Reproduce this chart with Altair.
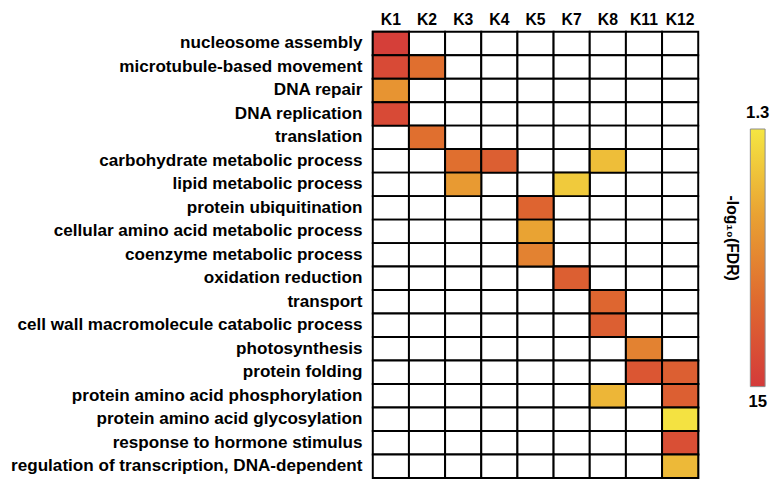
import altair as alt
import pandas as pd

# ---------------- data ----------------
terms = [
    "nucleosome assembly",
    "microtubule-based movement",
    "DNA repair",
    "DNA replication",
    "translation",
    "carbohydrate metabolic process",
    "lipid metabolic process",
    "protein ubiquitination",
    "cellular amino acid metabolic process",
    "coenzyme metabolic process",
    "oxidation reduction",
    "transport",
    "cell wall macromolecule catabolic process",
    "photosynthesis",
    "protein folding",
    "protein amino acid phosphorylation",
    "protein amino acid glycosylation",
    "response to hormone stimulus",
    "regulation of transcription, DNA-dependent",
]
clusters = ["K1", "K2", "K3", "K4", "K5", "K7", "K8", "K11", "K12"]

hit_terms = [
    "nucleosome assembly",
    "microtubule-based movement", "microtubule-based movement",
    "DNA repair",
    "DNA replication",
    "translation",
    "carbohydrate metabolic process", "carbohydrate metabolic process", "carbohydrate metabolic process",
    "lipid metabolic process", "lipid metabolic process",
    "protein ubiquitination",
    "cellular amino acid metabolic process",
    "coenzyme metabolic process",
    "oxidation reduction",
    "transport",
    "cell wall macromolecule catabolic process",
    "photosynthesis",
    "protein folding", "protein folding",
    "protein amino acid phosphorylation", "protein amino acid phosphorylation",
    "protein amino acid glycosylation",
    "response to hormone stimulus",
    "regulation of transcription, DNA-dependent",
]
hit_clusters = [
    "K1",
    "K1", "K2",
    "K1",
    "K1",
    "K2",
    "K3", "K4", "K8",
    "K3", "K7",
    "K5",
    "K5",
    "K5",
    "K7",
    "K8",
    "K8",
    "K11",
    "K11", "K12",
    "K8", "K12",
    "K12",
    "K12",
    "K12",
]
hit_values = [
    14.5,
    13.5, 10.0,
    7.0,
    13.5,
    10.0,
    10.0, 11.5, 4.0,
    6.5, 3.2,
    11.0,
    5.8,
    8.5,
    11.5,
    10.8,
    11.5,
    8.5,
    12.3, 11.5,
    4.5, 11.5,
    1.6,
    13.0,
    4.3,
]

scale_min = 1.3
scale_max = 15
legend_labels = ["1.3", "15"]
legend_title = "-log\u2081\u2080(FDR)"

# ---------------- styling ----------------
FONT = "Liberation Sans"
colors = ["#f5e642", "#e9a233", "#df6a2f", "#d43a3a"]
step = (scale_max - scale_min) / (len(colors) - 1)
color_domain = [scale_min + i * step for i in range(len(colors))]

grid = pd.DataFrame([(t, c) for t in terms for c in clusters], columns=["term", "cluster"])
hits = pd.DataFrame({"term": hit_terms, "cluster": hit_clusters, "value": hit_values})

x_enc = alt.X(
    "cluster:N", sort=clusters,
    scale=alt.Scale(paddingInner=0, paddingOuter=0),
    axis=alt.Axis(orient="top", title=None, labelAngle=0, ticks=False, domain=False,
                  labelFont=FONT, labelFontSize=16, labelFontWeight="bold",
                  labelColor="black", labelPadding=4),
)
y_enc = alt.Y(
    "term:N", sort=terms,
    scale=alt.Scale(paddingInner=0, paddingOuter=0),
    axis=alt.Axis(title=None, ticks=False, domain=False,
                  labelFont=FONT, labelFontSize=17.4, labelFontWeight="bold",
                  labelColor="black", labelPadding=11, labelLimit=600),
)

base_grid = alt.Chart(grid).mark_rect(fill="white", stroke="black", strokeWidth=2).encode(
    x=x_enc, y=y_enc
)
cells = alt.Chart(hits).mark_rect(stroke="black", strokeWidth=2).encode(
    x=x_enc, y=y_enc,
    color=alt.Color("value:Q",
                    scale=alt.Scale(domain=color_domain, range=colors, interpolate="rgb"),
                    legend=None),
)
heat = alt.layer(base_grid, cells).properties(width=331, height=454)

# ---------------- custom colour bar ----------------
ydom = alt.Scale(domain=[scale_min, scale_max], range=[99, 361])
bar_df = pd.DataFrame({"lo": [scale_min], "hi": [scale_max]})
stops = [alt.GradientStop(offset=i / (len(colors) - 1), color=c) for i, c in enumerate(colors)]
bar = alt.Chart(bar_df).mark_rect(
    fill=alt.Gradient(gradient="linear", stops=stops, x1=0, y1=0, x2=0, y2=1),
    stroke="#8c8c8c", strokeWidth=1,
).encode(
    x=alt.value(31), x2=alt.value(46),
    y=alt.Y("lo:Q", scale=ydom, axis=None), y2="hi:Q",
)
lab_df = pd.DataFrame({"v": [scale_min, scale_max], "t": legend_labels})
lab_top = alt.Chart(lab_df).transform_filter(alt.datum.v == scale_min).mark_text(
    font=FONT, fontSize=17, fontWeight="bold", color="black", baseline="bottom", dy=-7
).encode(x=alt.value(38.5), y=alt.Y("v:Q", scale=ydom, axis=None), text="t:N")
lab_bot = alt.Chart(lab_df).transform_filter(alt.datum.v == scale_max).mark_text(
    font=FONT, fontSize=17, fontWeight="bold", color="black", baseline="top", dy=8
).encode(x=alt.value(38.5), y=alt.Y("v:Q", scale=ydom, axis=None), text="t:N")
title = alt.Chart(bar_df).mark_text(
    font=FONT, fontSize=16, fontWeight="bold", color="black", angle=90,
    align="center", baseline="middle",
).encode(x=alt.value(12), y=alt.value(210), text=alt.value(legend_title))

legend = alt.layer(bar, lab_top, lab_bot, title).properties(width=44, height=454)

chart = alt.hconcat(heat, legend, spacing=22, bounds="flush").resolve_scale(
    y="independent", x="independent", color="independent"
).properties(
    padding={"left": 2, "right": 0, "top": 0, "bottom": 2},
    background="white",
).configure_view(strokeWidth=0, stroke=None)

chart.save("out.html", embed_options={"renderer": "svg", "actions": False})
